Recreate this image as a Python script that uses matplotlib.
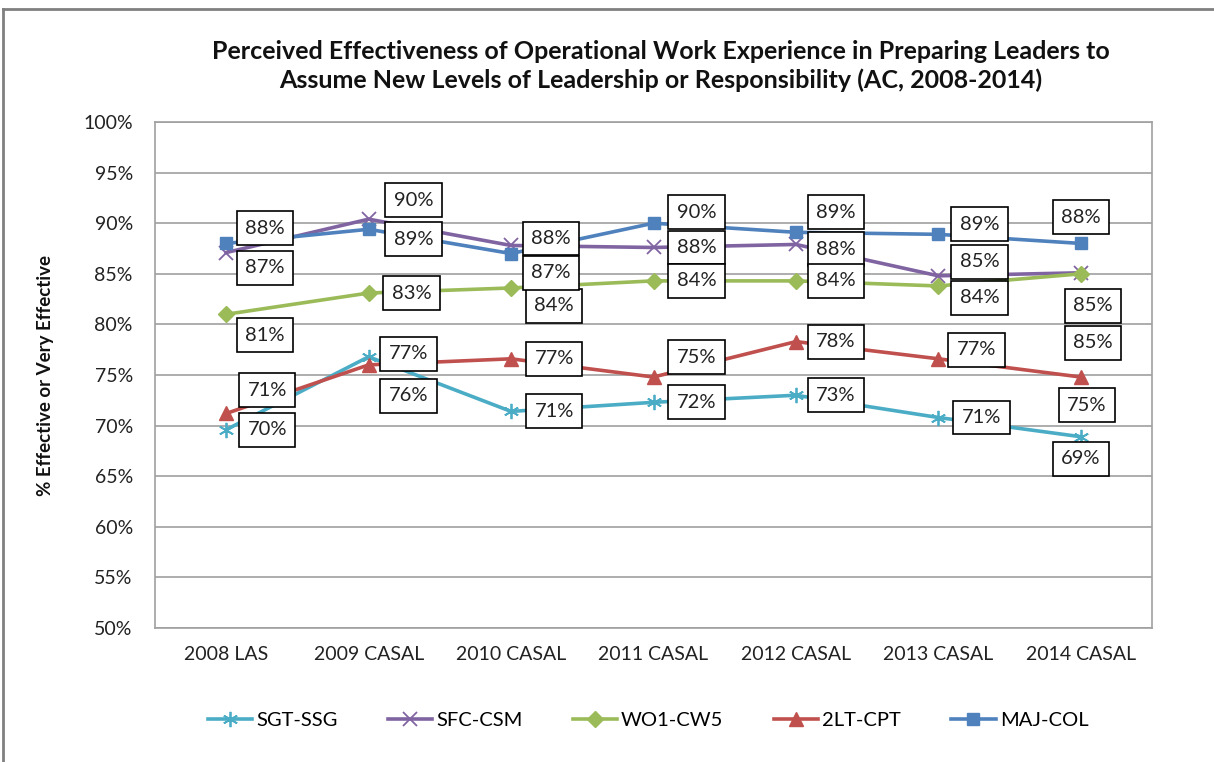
import matplotlib
matplotlib.use("Agg")
import matplotlib.pyplot as plt
from matplotlib.lines import Line2D
from matplotlib.ticker import FuncFormatter, MultipleLocator

plt.rcParams['font.family'] = ['Lato', 'DejaVu Sans']

categories = ["2008 LAS", "2009 CASAL", "2010 CASAL", "2011 CASAL",
              "2012 CASAL", "2013 CASAL", "2014 CASAL"]
series_names = ["SGT-SSG", "SFC-CSM", "WO1-CW5", "2LT-CPT", "MAJ-COL"]
sgt_ssg = [69.6, 76.8, 71.4, 72.3, 73.0, 70.8, 68.9]
sfc_csm = [87.1, 90.4, 87.8, 87.6, 87.9, 84.8, 85.1]
wo1_cw5 = [81.0, 83.1, 83.6, 84.3, 84.3, 83.8, 85.0]
lt_cpt = [71.2, 76.0, 76.6, 74.8, 78.3, 76.6, 74.8]
maj_col = [88.0, 89.4, 87.0, 90.0, 89.1, 88.9, 88.0]

title = ("Perceived Effectiveness of Operational Work Experience in Preparing Leaders to\n"
         "Assume New Levels of Leadership or Responsibility (AC, 2008-2014)")
ylabel = "% Effective or Very Effective"

# styling
colors = ["#4BACC6", "#8064A2", "#9BBB59", "#C0504D", "#4F81BD"]
markers = [(6, 2, 0), "x", "D", "^", "s"]
msizes = [11, 10, 8, 10, 8]
# label offsets in pixels (dx, dy) per series, per category
offsets = [
    [(41, 0), (40, 3), (43, 0), (43, 0), (40, 0), (43, 0), (0, -22)],
    [(39, -15), (45, 19), (40, 7), (43, 0), (40, -5), (41, 14), (12, -70)],
    [(39, -21), (43, 0), (43, -18), (43, 0), (40, 0), (41, -12), (12, -32)],
    [(41, 23), (40, -31), (43, 0), (43, 20), (40, 0), (38, 9), (6, -28)],
    [(39, 15), (45, -10), (40, -19), (43, 11), (40, 20), (41, 10), (0, 26)],
]

W, H = 1214, 762
fig = plt.figure(figsize=(W / 100, H / 100), dpi=100)
ax = fig.add_axes([155 / W, (H - 628) / H, 997 / W, 506 / H])

data = [sgt_ssg, sfc_csm, wo1_cw5, lt_cpt, maj_col]
x = list(range(len(categories)))
for i, (name, vals) in enumerate(zip(series_names, data)):
    mew = 1.3 if i in (0, 1) else 1.0
    ax.plot(x, vals, color=colors[i], lw=2.6, marker=markers[i], ms=msizes[i],
            mec=colors[i], mfc=colors[i], mew=mew, label=name, zorder=3 + i * 0.1)

for i, vals in enumerate(data):
    for j, v in enumerate(vals):
        dx, dy = offsets[i][j]
        ax.annotate(f"{round(v)}%", (x[j], v), xytext=(dx, dy), textcoords="offset pixels",
                    ha="center", va="center", fontsize=14.5, color="#222222",
                    bbox=dict(boxstyle="square,pad=0.42", fc="white", ec="black", lw=1.2),
                    zorder=10)

ax.set_xlim(-0.5, len(categories) - 0.5)
ax.set_ylim(50, 100)
ax.yaxis.set_major_locator(MultipleLocator(5))
ax.yaxis.set_major_formatter(FuncFormatter(lambda v, p: f"{v:.0f}%"))
ax.set_xticks(x)
ax.set_xticklabels(categories)
ax.tick_params(axis="both", length=0, labelsize=14, colors="#222222")
ax.tick_params(axis="y", pad=16)
ax.tick_params(axis="x", pad=13)
ax.grid(axis="y", color="#A0A0A0", lw=1.2)
ax.set_axisbelow(True)
for s in ax.spines.values():
    s.set_color("#A0A0A0")
    s.set_linewidth(1.2)

fig.text(661 / W, 1 - 66 / H, title, ha="center", va="center", fontsize=18,
         fontweight="bold", color="#111111", linespacing=1.25)
fig.text(46 / W, 1 - 375 / H, ylabel, rotation=90, ha="center", va="center",
         fontsize=13.5, fontweight="bold", color="#111111")

leg = fig.legend(loc="center", bbox_to_anchor=(648 / W, 1 - 720 / H), ncol=5,
                 frameon=False, fontsize=14.5, handlelength=2.2, columnspacing=2.5,
                 handletextpad=0.2)

# outer chart border
fig.add_artist(Line2D([3 / W, 3 / W], [0, 1 - 9 / H], transform=fig.transFigure,
                      color="#808080", lw=2))
fig.add_artist(Line2D([3 / W, 1], [1 - 9 / H, 1 - 9 / H], transform=fig.transFigure,
                      color="#808080", lw=2))

fig.savefig("out.png", dpi=100, facecolor="white")
